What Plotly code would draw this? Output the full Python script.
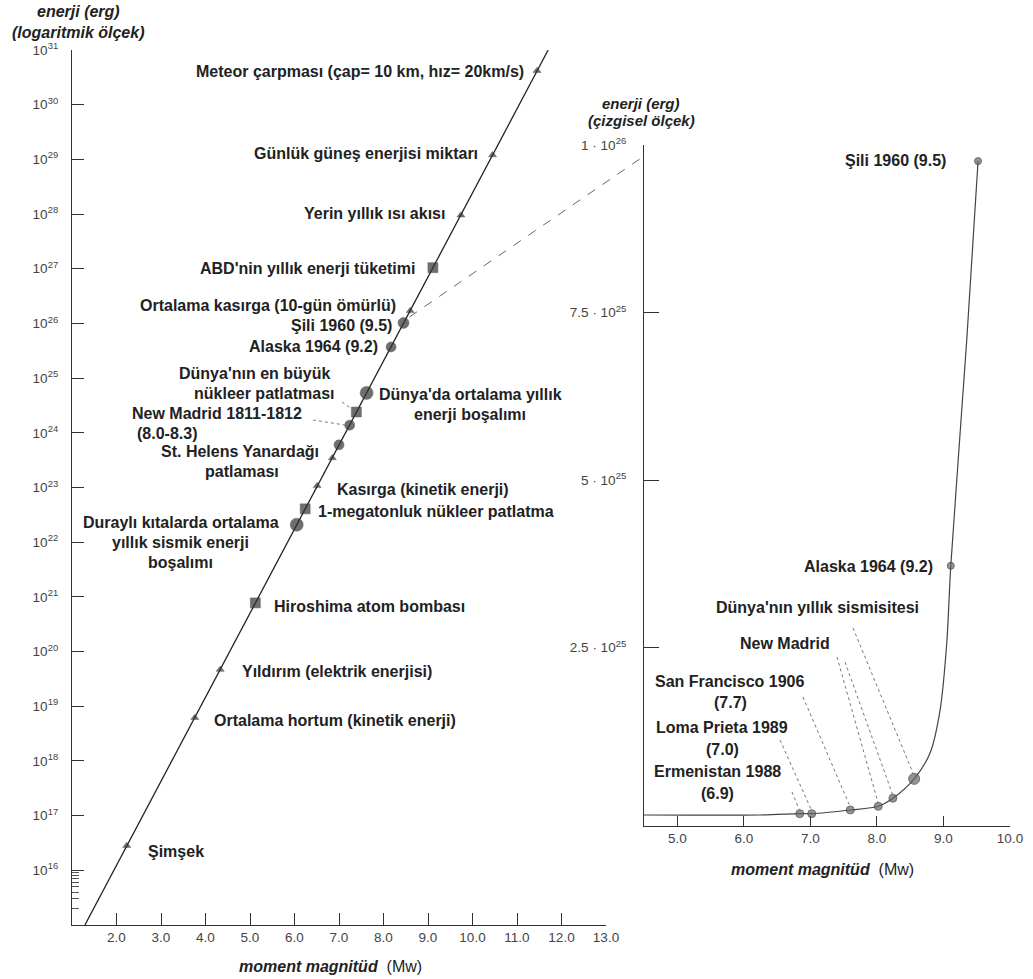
import plotly.graph_objects as go

W, H = 1033, 979
FONT = "Liberation Sans, Arial, sans-serif"

# ---------------- LEFT PANEL DATA (log energy vs moment magnitude) ----------------
left_names = ["Meteor", "Günlük güneş", "Yerin ısı akısı", "ABD enerji", "Ortalama kasırga",
              "Şili 1960", "Alaska 1964", "Dünya'da ortalama", "En büyük nükleer",
              "New Madrid 8.3", "New Madrid 8.0", "St. Helens", "Kasırga kinetik",
              "1-megaton", "Duraylı kıtalar", "Hiroshima", "Yıldırım", "Hortum", "Şimşek"]
left_mw = [11.45, 10.45, 9.74, 9.11, 8.60, 8.45, 8.17, 7.62, 7.39, 7.24, 7.00, 6.85,
           6.51, 6.24, 6.05, 5.12, 4.33, 3.76, 2.23]
left_logE = [30.62, 29.08, 27.98, 27.02, 26.23, 26.01, 25.57, 24.73, 24.38, 24.14, 23.78,
             23.54, 23.03, 22.61, 22.32, 20.89, 19.67, 18.79, 16.45]
left_symbol = ["triangle-up", "triangle-up", "triangle-up", "square", "triangle-up",
               "circle", "circle", "circle", "square", "circle", "circle", "triangle-up",
               "triangle-up", "square", "circle", "square", "triangle-up", "triangle-up",
               "triangle-up"]
left_size = [7, 7, 7, 10, 7, 11, 10, 13, 10, 10, 10, 7, 7, 10, 13, 10, 7, 7, 7]

line_mw = [1.29, 11.70]
line_logE = [15.0, 31.0]

left_ytick_exp = list(range(16, 32))
left_xticks = [2, 3, 4, 5, 6, 7, 8, 9, 10, 11, 12, 13]

# ---------------- RIGHT PANEL DATA (linear energy, 1e26 erg) ----------------
curve_mw = [4.5, 6.24, 6.84, 7.02, 7.60, 8.02, 8.24, 8.56, 8.80, 8.95, 9.05, 9.11, 9.35, 9.52]
curve_E = [0.0, 0.0, 0.002, 0.002, 0.0075, 0.013, 0.025, 0.054, 0.093, 0.157, 0.257,
           0.372, 0.709, 0.976]

eq_names = ["Ermenistan 1988", "Loma Prieta 1989", "San Francisco 1906", "New Madrid a",
            "New Madrid b", "Dünya'nın yıllık sismisitesi", "Alaska 1964", "Şili 1960"]
eq_mw = [6.84, 7.02, 7.60, 8.02, 8.24, 8.56, 9.11, 9.52]
eq_E = [0.002, 0.002, 0.0075, 0.013, 0.025, 0.054, 0.372, 0.976]
eq_size = [8, 8, 8, 8, 8, 11, 7, 7]

right_yticks = [2.5e25, 5e25, 7.5e25, 1e26]
right_yticktext = ["2.5 · 10<sup>25</sup>", "5 · 10<sup>25</sup>",
                   "7.5 · 10<sup>25</sup>", "1 · 10<sup>26</sup>"]
right_xticks = [5, 6, 7, 8, 9, 10]

# ---------------- layout geometry (pixels) ----------------
LX0, LX1, LYT, LYB = 72, 606, 50, 925
RX0, RX1, RYT, RYB = 644, 1010, 145, 826
L_XR = [1, 13]
L_YR = [15, 31]
R_XR = [4.5, 10.0]
R_YR = [-0.0164e26, 1.0e26]


def px(x):
    return x / W


def py(y):
    return 1 - y / H


def left_pix(mw, logE):
    x = LX0 + (mw - L_XR[0]) / (L_XR[1] - L_XR[0]) * (LX1 - LX0)
    y = LYB - (logE - L_YR[0]) / (L_YR[1] - L_YR[0]) * (LYB - LYT)
    return x, y


def right_pix(mw, e):
    x = RX0 + (mw - R_XR[0]) / (R_XR[1] - R_XR[0]) * (RX1 - RX0)
    y = RYB - (e * 1e26 - R_YR[0]) / (R_YR[1] - R_YR[0]) * (RYB - RYT)
    return x, y


fig = go.Figure()

# left relation line
fig.add_trace(go.Scatter(x=line_mw, y=[10.0 ** v for v in line_logE], mode="lines",
                         line=dict(color="#222", width=1.3), xaxis="x", yaxis="y",
                         hoverinfo="skip", showlegend=False))
# left markers
fig.add_trace(go.Scatter(x=left_mw, y=[10.0 ** v for v in left_logE], mode="markers",
                         text=left_names,
                         marker=dict(symbol=left_symbol, size=left_size, color="#333",
                                     line=dict(color="#222", width=0.5)),
                         xaxis="x", yaxis="y", showlegend=False))
# right curve
fig.add_trace(go.Scatter(x=curve_mw, y=[v * 1e26 for v in curve_E], mode="lines",
                         line=dict(color="#444", width=1.2, shape="spline", smoothing=0.8),
                         xaxis="x2", yaxis="y2", hoverinfo="skip", showlegend=False))
fig.add_trace(go.Scatter(x=eq_mw, y=[v * 1e26 for v in eq_E], mode="markers",
                         text=eq_names,
                         marker=dict(symbol="circle", size=eq_size, color="#666",
                                     line=dict(color="#333", width=1)),
                         xaxis="x2", yaxis="y2", showlegend=False))

tickfont = dict(family=FONT, size=13.5, color="#444")

fig.update_layout(
    width=W, height=H, template="none",
    margin=dict(l=0, r=0, t=0, b=0),
    paper_bgcolor="white", plot_bgcolor="rgba(0,0,0,0)",
    font=dict(family=FONT, color="#222"),
    xaxis=dict(domain=[px(LX0), px(LX1)], range=L_XR, anchor="y",
               tickvals=left_xticks, ticktext=[f"{v}.0" for v in left_xticks],
               ticks="inside", ticklen=12, tickcolor="#333", tickwidth=1,
               showline=True, linecolor="#333", linewidth=1.3,
               showgrid=False, zeroline=False, tickfont=tickfont, automargin=False),
    yaxis=dict(domain=[py(LYB), py(LYT)], type="log", range=L_YR, anchor="x",
               tickvals=[10.0 ** e for e in left_ytick_exp],
               ticktext=[f"10<sup>{e}</sup>" for e in left_ytick_exp],
               ticks="inside", ticklen=12, tickcolor="#333", tickwidth=1,
               minor=dict(tickvals=[k * 1e15 for k in range(2, 10)], ticks="inside",
                          ticklen=7, tickcolor="#555", showgrid=False),
               showline=True, linecolor="#333", linewidth=1.3, ticklabelstandoff=10,
               showgrid=False, zeroline=False, tickfont=tickfont, automargin=False),
    xaxis2=dict(domain=[px(RX0), px(RX1)], range=R_XR, anchor="y2",
                tickvals=right_xticks, ticktext=[f"{v}.0" for v in right_xticks],
                ticks="inside", ticklen=10, tickcolor="#333", tickwidth=1,
                showline=True, linecolor="#333", linewidth=1.3,
                showgrid=False, zeroline=False, tickfont=tickfont, automargin=False),
    yaxis2=dict(domain=[py(RYB), py(RYT)], range=R_YR, anchor="x2",
                tickvals=right_yticks, ticktext=right_yticktext,
                ticks="inside", ticklen=15, tickcolor="#333", tickwidth=1,
                showline=True, linecolor="#333", linewidth=1.3, ticklabelstandoff=14,
                showgrid=False, zeroline=False, tickfont=tickfont, automargin=False),
)

ann = []


def text(t, x, y, anchor="center", size=16, bold=True, color="#222"):
    s = f"<b>{t}</b>" if bold else t
    ann.append(dict(text=s, x=px(x), y=py(y), xref="paper", yref="paper",
                    xanchor=anchor, yanchor="middle", showarrow=False,
                    font=dict(family=FONT, size=size, color=color)))


# left panel labels
text("Meteor çarpması (çap= 10 km, hız= 20km/s)", 526, 71, "right")
text("Günlük güneş enerjisi miktarı", 480, 154, "right")
text("Yerin yıllık ısı akısı", 447, 213, "right")
text("ABD'nin yıllık enerji tüketimi", 417, 268, "right")
text("Ortalama kasırga (10-gün ömürlü)", 398, 305, "right")
text("Şili 1960 (9.5)", 394, 325, "right")
text("Alaska 1964 (9.2)", 380, 347, "right")
text("Dünya'nın en büyük", 254, 373)
text("nükleer patlatması", 264, 393)
text("Dünya'da ortalama yıllık", 470, 394)
text("enerji boşalımı", 470, 414)
text("New Madrid 1811-1812", 217, 413)
text("(8.0-8.3)", 167, 433)
text("St. Helens Yanardağı", 240, 452)
text("patlaması", 242, 472)
text("Kasırga (kinetik enerji)", 335, 490, "left")
text("1-megatonluk nükleer patlatma", 316, 511, "left")
text("Duraylı kıtalarda ortalama", 181, 522)
text("yıllık sismik enerji", 180, 542)
text("boşalımı", 180, 562)
text("Hiroshima atom bombası", 272, 606, "left")
text("Yıldırım (elektrik enerjisi)", 240, 671, "left")
text("Ortalama hortum (kinetik enerji)", 212, 720, "left")
text("Şimşek", 146, 851, "left")

# right panel labels
text("Şili 1960 (9.5)", 948, 160, "right")
text("Alaska 1964 (9.2)", 935, 566, "right")
text("Dünya'nın yıllık sismisitesi", 817, 607)
text("New Madrid", 785, 643)
text("San Francisco 1906", 730, 681)
text("(7.7)", 730, 702)
text("Loma Prieta 1989", 722, 727)
text("(7.0)", 722, 749)
text("Ermenistan 1988", 717, 771)
text("(6.9)", 717, 793)

# axis titles
text("<i>enerji (erg)</i>", 78, 12, size=16)
text("<i>(logaritmik ölçek)</i>", 78, 32, size=16)
text("<i>enerji (erg)</i>", 641, 103, size=15)
text("<i>(çizgisel ölçek)</i>", 641, 121, size=15)
ann.append(dict(text="<b><i>moment magnitüd</i></b>  (Mw)", x=px(330), y=py(966),
                xref="paper", yref="paper", xanchor="center", yanchor="middle",
                showarrow=False, font=dict(family=FONT, size=16, color="#222")))
ann.append(dict(text="<b><i>moment magnitüd</i></b>  (Mw)", x=px(822), y=py(869),
                xref="paper", yref="paper", xanchor="center", yanchor="middle",
                showarrow=False, font=dict(family=FONT, size=16, color="#222")))

fig.update_layout(annotations=ann)

shapes = []


def seg(x0, y0, x1, y1, dash="dot", color="#777", width=1):
    shapes.append(dict(type="line", xref="paper", yref="paper",
                       x0=px(x0), y0=py(y0), x1=px(x1), y1=py(y1),
                       line=dict(color=color, width=width, dash=dash)))


# left leaders
p = left_pix(left_mw[8], left_logE[8])
seg(342, 402, p[0] - 3, p[1] - 2)
p = left_pix(left_mw[9], left_logE[9])
seg(313, 420, p[0] - 4, p[1])
# connector from Şili (left) to 1e26 level (right)
p = left_pix(left_mw[5], left_logE[5])
q = right_pix(R_XR[0], eq_E[7])
seg(p[0] + 6, p[1] - 6, q[0], q[1] - 5, dash="dash", color="#666", width=1)

# right leaders
for (sx, sy), idx in [((792, 792), 0), ((780, 740), 1), ((803, 697), 2),
                      ((837, 657), 3), ((845, 662), 4), ((853, 628), 5)]:
    q = right_pix(eq_mw[idx], eq_E[idx])
    seg(sx, sy, q[0], q[1] - 3)

fig.update_layout(shapes=shapes)

fig.write_html("out.html", config={"displayModeBar": False},
               post_script="document.body.style.margin='0';document.body.style.overflow='hidden';")
